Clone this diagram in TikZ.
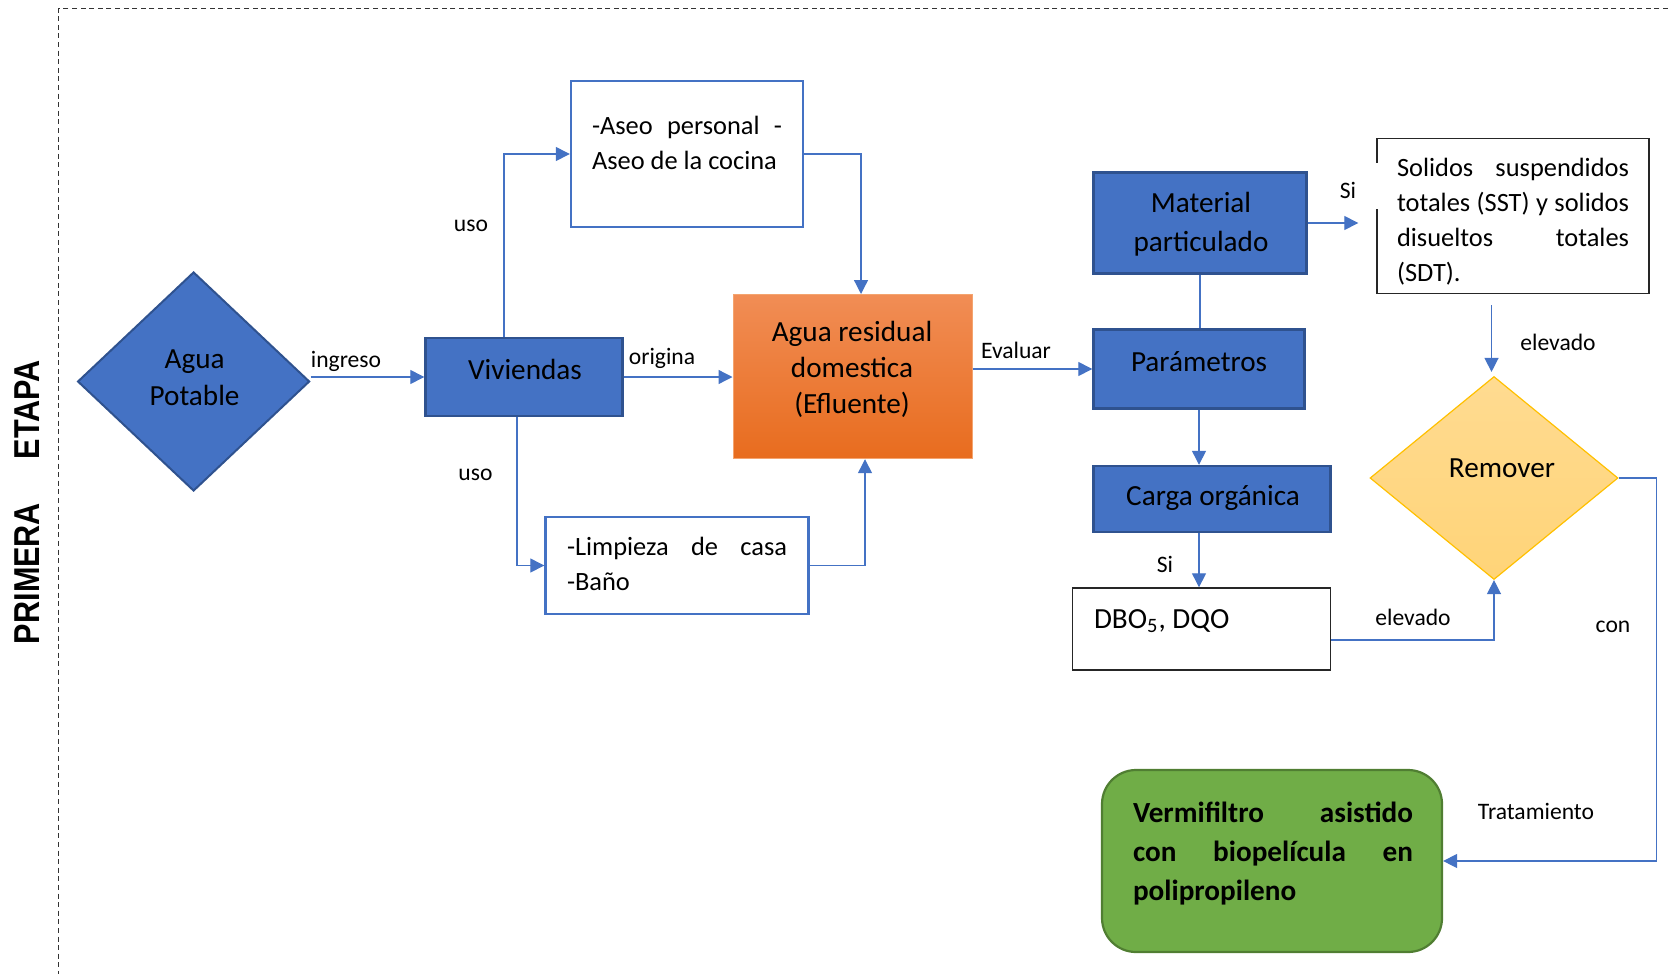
\documentclass[tikz,border=0pt]{standalone}
\usepackage{fontspec}
\setmainfont{Carlito}
\newfontfamily\lsans{Liberation Sans}
\usetikzlibrary{shapes.geometric,arrows.meta,calc}
\definecolor{bl}{HTML}{4472C4}
\definecolor{bld}{HTML}{2F528F}
\definecolor{orT}{HTML}{F18D55}
\definecolor{orB}{HTML}{E86C1E}
\definecolor{orD}{HTML}{F4A46F}
\definecolor{yeT}{HTML}{FFDB91}
\definecolor{yeB}{HTML}{FFD478}
\definecolor{yeD}{HTML}{FFC000}
\definecolor{grF}{HTML}{70AD47}
\definecolor{grD}{HTML}{507E32}
\begin{document}
\begin{tikzpicture}[x=0.5pt,y=-0.5pt,
 bigtxt/.style={font=\fontsize{14.6}{18}\selectfont, inner sep=0pt, align=center},
 smalltxt/.style={font=\fontsize{13.2}{17.5}\selectfont, inner sep=0pt, align=left},
 lab/.style={font=\fontsize{11.8}{14}\selectfont, inner sep=0pt},
 bluebox/.style={draw=bld, fill=bl, line width=1.2pt, inner sep=0pt},
 wbox/.style={draw=bl, fill=white, line width=1.2pt, inner sep=0pt},
 kbox/.style={draw=black!85, fill=white, line width=0.7pt, inner sep=0pt},
 conn/.style={draw=bl, line width=0.65pt},
 arr/.style={conn, -{Triangle[length=7pt,width=7pt]}},
]
\useasboundingbox (0,0) rectangle (1668,974);
% frame
\coordinate (fr1) at (1668,9);
\coordinate (fr2) at (58.5,9);
\coordinate (fr3) at (58.5,974);
\draw[black!80, line width=0.5pt, dash pattern=on 2.5pt off 1.8pt] (fr1) -- (fr2) -- (fr3);
\node[rotate=90, inner sep=0pt, font=\lsans\bfseries\fontsize{18}{20}\selectfont] (etapa) at (27,502)
  {\makebox[142pt]{\scalebox{0.85}[1]{PRIMERA}\hfill\scalebox{0.85}[1]{ETAPA}}};

% shapes
\node[diamond, draw=bld, fill=bl, line width=1pt, inner sep=0pt, minimum width=116pt, minimum height=109.5pt] (ap) at (193.6,381.5) {};
\node[bluebox, minimum width=98.5pt, minimum height=39pt] (viv) at (524,377) {};
\node[wbox, minimum width=116pt, minimum height=73pt] (aseo) at (687,154) {};
\node[wbox, minimum width=131.5pt, minimum height=48.5pt] (limp) at (677,565.5) {};
\node[draw=orD, line width=0.6pt, top color=orT, bottom color=orB, inner sep=0pt, minimum width=119.5pt, minimum height=82pt] (agua) at (852.6,376.6) {};
\node[bluebox, minimum width=106.5pt, minimum height=50.5pt] (mat) at (1200,223) {};
\node[bluebox, minimum width=105.5pt, minimum height=39.5pt] (par) at (1199,369) {};
\node[bluebox, minimum width=118.5pt, minimum height=33pt] (carga) at (1212,499) {};
\node[kbox, minimum width=129.25pt, minimum height=41pt] (dbo) at (1201.5,629) {};
\node[kbox, minimum width=136pt, minimum height=77.5pt] (sol) at (1513,216) {};
\node[diamond, draw=yeD, line width=0.6pt, top color=yeT, bottom color=yeB, inner sep=0pt, minimum width=124pt, minimum height=101.5pt] (rem) at (1494,478) {};
\node[rectangle, rounded corners=17pt, draw=grD, fill=grF, line width=1.1pt, inner sep=0pt, minimum width=170pt, minimum height=91pt] (verm) at (1272,861) {};
\draw[white, line width=2pt] (1376.6,163) -- (1376.6,209);

% texts
\node[bigtxt, font=\fontsize{14.6}{18.6}\selectfont] (tap) at (194.6,378) {Agua\\Potable};
\node[bigtxt] (tviv) at (525,369) {Viviendas};
\node[smalltxt] (taseo) at (687,143) {\makebox[95pt][s]{-Aseo personal -}\\Aseo de la cocina};
\node[smalltxt] (tlimp) at (677,564) {\makebox[110pt][s]{-Limpieza de casa}\\-Baño};
\node[bigtxt] (tagua) at (852,369) {Agua residual\\domestica\\(Efluente)};
\node[bigtxt, font=\fontsize{14.6}{19.7}\selectfont] (tmat) at (1201,224) {Material\\particulado};
\node[bigtxt] (tpar) at (1199,362) {Parámetros};
\node[bigtxt] (tcarga) at (1213,498) {Carga orgánica};
\node[bigtxt, anchor=west] (tdbo) at (1093.6,621) {DBO\textsubscript{5}, DQO};
\node[smalltxt] (tsol) at (1513,222) {\makebox[116pt][s]{Solidos suspendidos}\\\makebox[116pt][s]{totales (SST) y solidos}\\\makebox[116pt][s]{disueltos totales}\\(SDT).};
\node[bigtxt] (trem) at (1502,468) {Remover};
\node[bigtxt, align=left, font=\bfseries\fontsize{14.6}{19.5}\selectfont] (tverm) at (1273,854) {\makebox[140pt][s]{Vermifiltro asistido}\\\makebox[140pt][s]{con biopelícula en}\\polipropileno};

% connectors
\draw[arr] (ap.east |- viv.west) -- (viv.west);
\draw[arr] ($(viv.north)+(-20,0)$) |- (aseo.west);
\draw[arr] ($(viv.south)+(-7,0)$) |- (limp.west);
\draw[arr] (viv.east) -- (viv.east -| agua.west);
\draw[arr] (aseo.east) -| ($(agua.north)+(8.4,0)$);
\draw[arr] (limp.east) -| ($(agua.south)+(12.4,0)$);
\draw[arr] (agua.east |- par.west) -- (par.west);
\draw[conn] (mat.south) -- (mat.south |- par.north);
\draw[arr] (mat.east) -- ($(mat.east -| sol.west)+(-18,0)$);
\draw[arr] (par.south) -- (par.south |- carga.north);
\draw[arr] (par.south |- carga.south) -- (par.south |- dbo.north);
\draw[arr] ($(sol.south)+(-21.5,11)$) -- ($(rem.north)+(-2.5,-4)$);
\draw[arr] ($(dbo.east)+(0,11)$) -| (rem.south);
\draw[arr] (rem.east) -- ++(38,0) |- (verm.east);

% labels
\node[lab] (l1) at (346,361) {ingreso};
\node[lab] (l2) at (471,226) {uso};
\node[lab] (l3) at (475.5,475) {uso};
\node[lab] (l4) at (662,358) {origina};
\node[lab] (l5) at (1016,350) {Evaluar};
\node[lab] (l6) at (1348,190) {Si};
\node[lab] (l7) at (1165,564) {Si};
\node[lab] (l8) at (1558,342.5) {elevado};
\node[lab] (l9) at (1413,617) {elevado};
\node[lab] (l10) at (1613,627) {con};
\node[lab] (l11) at (1536,811.5) {Tratamiento};
\end{tikzpicture}
\end{document}
